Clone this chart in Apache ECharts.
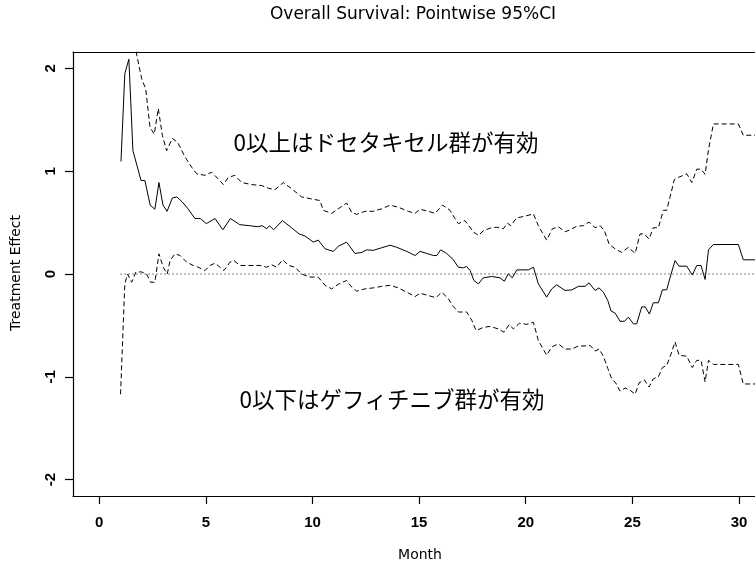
<!DOCTYPE html>
<html>
<head>
<meta charset="utf-8">
<script src="https://cdn.jsdelivr.net/npm/echarts@6/dist/echarts.min.js"></script>
<style>
  html, body { margin: 0; padding: 0; background: #fff; }
  #chart { width: 755px; height: 562px; }
</style>
</head>
<body>
<div id="chart"></div>
<script>
// tick positions
const xTicks = [0, 5, 10, 15, 20, 25, 30];
const yTicks = [-2, -1, 0, 1, 2];

// [month, treatment effect]
const estimate = [
  [1.02, 1.095], [1.2, 1.95], [1.39, 2.09], [1.58, 1.2], [1.96, 0.91], [2.14, 0.91],
  [2.39, 0.67], [2.61, 0.63], [2.8, 0.89], [2.99, 0.67], [3.18, 0.61], [3.43, 0.74],
  [3.64, 0.75], [3.9, 0.7], [4.14, 0.64], [4.49, 0.54], [4.74, 0.54], [5.02, 0.49],
  [5.43, 0.54], [5.8, 0.43], [6.15, 0.54], [6.59, 0.48], [7.05, 0.47], [7.43, 0.46],
  [7.65, 0.47], [7.85, 0.44], [7.98, 0.47], [8.18, 0.43], [8.59, 0.52], [9.02, 0.45],
  [9.37, 0.39], [9.65, 0.37], [10.04, 0.31], [10.27, 0.33], [10.59, 0.245], [10.98, 0.22],
  [11.21, 0.27], [11.6, 0.31], [11.99, 0.2], [12.31, 0.21], [12.54, 0.235], [12.85, 0.23],
  [13.24, 0.255], [13.64, 0.28], [13.95, 0.26], [14.42, 0.22], [14.81, 0.18], [15.04, 0.22],
  [15.36, 0.2], [15.67, 0.18], [15.83, 0.18], [16.01, 0.235], [16.29, 0.2], [16.6, 0.14],
  [16.84, 0.066], [17.07, 0.06], [17.23, 0.073], [17.39, 0.034], [17.57, -0.063], [17.78, -0.096],
  [18.01, -0.037], [18.4, -0.024], [18.79, -0.037], [19.0, -0.07], [19.18, 0.002], [19.37, -0.037],
  [19.58, 0.04], [20.12, 0.04], [20.36, 0.066], [20.59, -0.096], [20.98, -0.225], [21.22, -0.145],
  [21.45, -0.105], [21.84, -0.16], [22.16, -0.155], [22.47, -0.12], [22.78, -0.12], [22.97, -0.086],
  [23.25, -0.16], [23.44, -0.135], [23.64, -0.177], [23.85, -0.26], [24.0, -0.36], [24.19, -0.38],
  [24.42, -0.46], [24.63, -0.46], [24.81, -0.42], [25.05, -0.485], [25.2, -0.485], [25.44, -0.32],
  [25.6, -0.32], [25.8, -0.39], [25.98, -0.28], [26.22, -0.28], [26.41, -0.154], [26.61, -0.154],
  [26.81, -0.005], [27.0, 0.131], [27.19, 0.076], [27.55, 0.076], [27.81, -0.01], [28.02, 0.083],
  [28.22, 0.083], [28.41, -0.053], [28.57, 0.235], [28.8, 0.287], [29.97, 0.287], [30.2, 0.138],
  [30.75, 0.138]
];

const upperCI = [
  [1.02, 3.36], [1.2, 4.0], [1.39, 4.2], [1.58, 2.5], [1.75, 2.14], [1.99, 1.9], [2.18, 1.8],
  [2.38, 1.43], [2.58, 1.36], [2.77, 1.61], [2.96, 1.35], [3.16, 1.2], [3.43, 1.32], [3.68, 1.28],
  [4.02, 1.14], [4.33, 1.04], [4.57, 0.975], [4.96, 0.96], [5.27, 0.99], [5.58, 0.925], [5.82, 0.87],
  [6.05, 0.94], [6.36, 0.96], [6.68, 0.89], [7.15, 0.87], [7.62, 0.86], [7.93, 0.835], [8.24, 0.82],
  [8.63, 0.89], [9.02, 0.83], [9.49, 0.75], [9.96, 0.73], [10.35, 0.715], [10.5, 0.62], [10.9, 0.59],
  [11.21, 0.635], [11.6, 0.69], [11.84, 0.6], [12.07, 0.58], [12.46, 0.61], [12.85, 0.61], [13.25, 0.635],
  [13.64, 0.67], [14.02, 0.65], [14.49, 0.61], [14.81, 0.59], [15.04, 0.63], [15.43, 0.61], [15.75, 0.59],
  [16.1, 0.67], [16.45, 0.62], [16.68, 0.54], [16.84, 0.49], [17.15, 0.52], [17.54, 0.41], [17.78, 0.375],
  [18.01, 0.42], [18.33, 0.446], [18.64, 0.455], [18.95, 0.44], [19.14, 0.495], [19.3, 0.47], [19.58, 0.547],
  [19.92, 0.56], [20.36, 0.585], [20.59, 0.47], [20.98, 0.33], [21.25, 0.44], [21.53, 0.46], [21.84, 0.41],
  [22.08, 0.43], [22.39, 0.465], [22.7, 0.47], [22.97, 0.505], [23.25, 0.45], [23.49, 0.47], [23.69, 0.42],
  [23.91, 0.29], [24.19, 0.245], [24.5, 0.21], [24.81, 0.26], [25.13, 0.2], [25.36, 0.39], [25.56, 0.39],
  [25.78, 0.34], [25.98, 0.45], [26.22, 0.45], [26.45, 0.62], [26.61, 0.62], [26.97, 0.92], [27.16, 0.94],
  [27.55, 0.975], [27.79, 0.89], [28.02, 1.02], [28.22, 1.02], [28.41, 0.97], [28.57, 1.21], [28.8, 1.46],
  [29.97, 1.46], [30.2, 1.35], [30.75, 1.35]
];

const lowerCI = [
  [1.0, -1.17], [1.2, -0.095], [1.33, 0.0], [1.52, -0.08], [1.72, 0.02], [1.99, 0.02], [2.22, 0.0],
  [2.41, -0.08], [2.61, -0.08], [2.8, 0.196], [3.0, 0.066], [3.19, 0.0], [3.32, 0.13], [3.55, 0.196],
  [3.79, 0.18], [4.1, 0.115], [4.41, 0.083], [4.64, 0.066], [4.96, 0.034], [5.19, 0.083], [5.43, 0.105],
  [5.66, 0.066], [5.85, 0.034], [6.13, 0.115], [6.32, 0.13], [6.6, 0.083], [7.07, 0.083], [7.54, 0.083],
  [7.85, 0.066], [8.09, 0.09], [8.32, 0.066], [8.6, 0.138], [8.87, 0.083], [9.18, 0.066], [9.49, 0.0],
  [9.88, -0.03], [10.27, -0.03], [10.59, -0.11], [10.9, -0.145], [11.21, -0.1], [11.6, -0.063], [11.84, -0.128],
  [12.07, -0.167], [12.46, -0.145], [12.85, -0.135], [13.25, -0.12], [13.64, -0.11], [14.02, -0.135], [14.42, -0.177],
  [14.81, -0.22], [15.04, -0.187], [15.43, -0.21], [15.79, -0.23], [16.06, -0.177], [16.37, -0.24], [16.6, -0.316],
  [16.84, -0.37], [17.23, -0.37], [17.47, -0.45], [17.67, -0.55], [18.01, -0.52], [18.33, -0.51], [18.72, -0.535],
  [18.98, -0.566], [19.23, -0.49], [19.42, -0.535], [19.7, -0.48], [20.05, -0.49], [20.36, -0.47], [20.59, -0.647],
  [20.98, -0.79], [21.22, -0.71], [21.53, -0.68], [21.84, -0.73], [22.16, -0.73], [22.47, -0.7], [22.78, -0.7],
  [23.02, -0.695], [23.25, -0.75], [23.44, -0.73], [23.64, -0.8], [23.85, -0.92], [24.03, -1.02], [24.22, -1.06],
  [24.42, -1.14], [24.66, -1.11], [24.89, -1.13], [25.13, -1.17], [25.31, -1.06], [25.56, -1.03], [25.78, -1.1],
  [25.98, -1.02], [26.22, -1.0], [26.41, -0.91], [26.61, -0.89], [26.81, -0.78], [27.0, -0.66], [27.19, -0.79],
  [27.55, -0.8], [27.81, -0.91], [28.02, -0.84], [28.22, -0.84], [28.41, -1.05], [28.57, -0.84], [28.8, -0.88],
  [29.97, -0.88], [30.2, -1.07], [30.75, -1.07]
];

const zeroLine = [[1, 0], [30.75, 0]];

const chart = echarts.init(document.getElementById("chart"));

const tickFont = { fontFamily: "Liberation Sans", fontWeight: "bold", fontSize: 15, color: "#000" };
const lineOf = (data, type) => ({
  type: "line",
  data: data,
  showSymbol: false,
  symbol: "none",
  clip: true,
  silent: true,
  lineStyle: { color: "#000", width: 1, type: type },
});

chart.setOption({
  backgroundColor: "#fff",
  animation: false,
  grid: { left: 73, right: 0, top: 52, bottom: 66 },
  xAxis: [
    {
      type: "value",
      min: -1.23,
      max: 30.75,
      splitLine: { show: false },
      axisLine: { show: true, onZero: false, lineStyle: { color: "#000", width: 1.2 } },
      axisTick: { show: true, length: 8, customValues: xTicks, lineStyle: { color: "#000", width: 1.2 } },
      axisLabel: Object.assign({ margin: 19, customValues: xTicks }, tickFont),
    },
    {
      type: "value",
      position: "top",
      min: -1.23,
      max: 30.75,
      splitLine: { show: false },
      axisLine: { show: true, onZero: false, lineStyle: { color: "#000", width: 1.2 } },
      axisTick: { show: false },
      axisLabel: { show: false },
    },
  ],
  yAxis: {
    type: "value",
    min: -2.16,
    max: 2.16,
    splitLine: { show: false },
    axisLine: { show: true, onZero: false, lineStyle: { color: "#000", width: 1.2 } },
    axisTick: { show: true, length: 8, customValues: yTicks, lineStyle: { color: "#000", width: 1.2 } },
    axisLabel: Object.assign({ margin: 15, rotate: 90, customValues: yTicks }, tickFont),
  },
  graphic: [
    {
      type: "text", x: 413, y: 15,
      style: { text: "Overall Survival: Pointwise 95%CI", font: "17px 'DejaVu Sans'", fill: "#000", textAlign: "center", textVerticalAlign: "middle" },
    },
    {
      type: "text", x: 420, y: 555,
      style: { text: "Month", font: "14px 'DejaVu Sans'", fill: "#000", textAlign: "center", textVerticalAlign: "middle" },
    },
    {
      type: "text", x: 16, y: 273, rotation: Math.PI / 2,
      style: { text: "Treatment Effect", font: "14px 'DejaVu Sans'", fill: "#000", textAlign: "center", textVerticalAlign: "middle" },
    },
    {
      type: "text", x: 386, y: 142,
      style: { text: "0以上はドセタキセル群が有効", font: "22.5px 'Noto Sans CJK JP'", fill: "#000", textAlign: "center", textVerticalAlign: "middle" },
    },
    {
      type: "text", x: 392, y: 399,
      style: { text: "0以下はゲフィチニブ群が有効", font: "22.5px 'Noto Sans CJK JP'", fill: "#000", textAlign: "center", textVerticalAlign: "middle" },
    },
  ],
  series: [
    lineOf(zeroLine, [1, 3]),
    lineOf(upperCI, [5, 3]),
    lineOf(lowerCI, [5, 3]),
    lineOf(estimate, "solid"),
  ],
});
</script>
</body>
</html>
